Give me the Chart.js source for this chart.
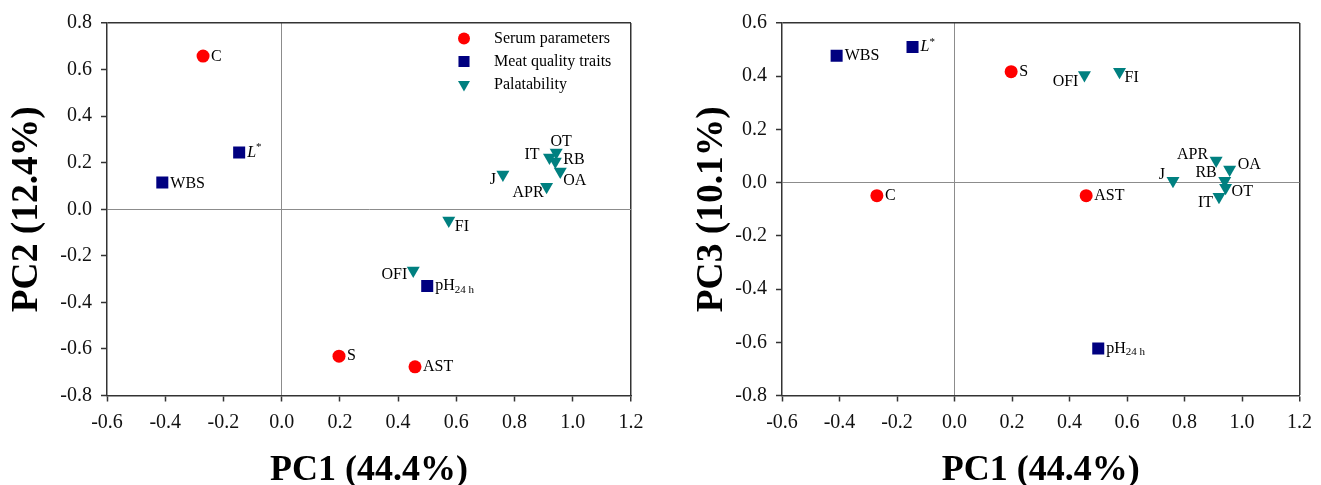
<!DOCTYPE html>
<html><head><meta charset="utf-8">
<script src="https://cdn.jsdelivr.net/npm/chart.js@4.4.0/dist/chart.umd.min.js"></script>
<style>
html,body{margin:0;padding:0;background:#fff;}
#wrap{position:relative;width:1321px;height:485px;overflow:hidden;background:#fff;}
.box{position:absolute;top:0;height:485px;}
</style></head><body>
<div id="wrap">
<div class="box" style="left:0;width:660px"><canvas id="c1"></canvas></div>
<div class="box" style="left:660px;width:661px"><canvas id="c2"></canvas></div>
</div>
<script>
// ---- data ----
const seriesNames = ['Serum parameters', 'Meat quality traits', 'Palatability'];
const labelsSerum = ['C', 'S', 'AST'];
const pc1Serum = [-0.27, 0.197, 0.458];
const pc2Serum = [0.658, -0.631, -0.677];
const pc3Serum = [-0.049, 0.417, -0.049];

const labelsMeat = ['L*', 'WBS', 'pH24h'];
const pc1Meat = [-0.146, -0.41, 0.50];
const pc2Meat = [0.244, 0.115, -0.33];
const pc3Meat = [0.51, 0.477, -0.623];

const labelsPal = ['OFI', 'FI', 'J', 'APR', 'OA', 'RB', 'IT', 'OT'];
const pc1Pal = [0.452, 0.574, 0.76, 0.91, 0.957, 0.94, 0.92, 0.943];
const pc2Pal = [-0.263, -0.048, 0.149, 0.097, 0.162, 0.205, 0.222, 0.244];
const pc3Pal = [0.405, 0.417, 0.0075, 0.083, 0.049, 0.0075, -0.053, -0.019];

const xTitle = 'PC1 (44.4%)';
const yTitleLeft = 'PC2 (12.4%)';
const yTitleRight = 'PC3 (10.1%)';
const xRange = [-0.6, 1.2];
const yRangeLeft = [-0.8, 0.8];
const yRangeRight = [-0.8, 0.6];
const tickStep = 0.2;

// ---- label placement (pixel offsets from marker) ----
const placeLeft = {
  'C': [8, 1, 'left'], 'L*': [8, 0, 'left'], 'WBS': [8, 1, 'left'], 'S': [8, 0, 'left'],
  'AST': [8, 0, 'left'], 'pH24h': [8, 0, 'left'], 'OFI': [-6, 4, 'right'], 'FI': [6, 6, 'left'],
  'J': [-7, 5, 'right'], 'APR': [-3, 6, 'right'], 'OA': [3, 9, 'left'], 'RB': [8, -2, 'left'],
  'IT': [-10, -3, 'right'], 'OT': [5, -11, 'center']
};
const placeRight = {
  'WBS': [8, 0, 'left'], 'L*': [8, 0, 'left'], 'S': [8, 0, 'left'], 'OFI': [-6, 7, 'right'],
  'FI': [5, 6, 'left'], 'C': [8, 0, 'left'], 'AST': [8, 0, 'left'], 'pH24h': [8, 0, 'left'],
  'J': [-8, -6, 'right'], 'APR': [-8, -6, 'right'], 'OA': [8, -5, 'left'], 'RB': [-8, -8, 'right'],
  'OT': [6, 4, 'left'], 'IT': [-6, 6, 'right']
};

const SERIF = "'Liberation Serif', 'Times New Roman', serif";
const COLORS = ['#ff0000', '#000080', '#008080'];
const STYLES = [
  {pointStyle: 'circle', radius: 6.5, rotation: 0},
  {pointStyle: 'rect', radius: 8.5, rotation: 0},
  {pointStyle: 'triangle', radius: 7.5, rotation: 180}
];

function pts(xs, ys) { return xs.map((x, i) => ({x: x, y: ys[i]})); }

function richParts(label) {
  if (label === 'L*') return [{t: 'L', f: 'italic 16px ' + SERIF, dy: 0}, {t: '*', f: '11px ' + SERIF, dy: -5}];
  if (label === 'pH24h') return [{t: 'pH', f: '16px ' + SERIF, dy: 0}, {t: '24 h', f: '11px ' + SERIF, dy: 4}];
  return [{t: label, f: '16px ' + SERIF, dy: 0}];
}

function drawRich(ctx, label, x, y, align) {
  const parts = richParts(label);
  let w = 0;
  parts.forEach(p => { ctx.font = p.f; p.w = ctx.measureText(p.t).width; w += p.w; });
  let cx = align === 'right' ? x - w : (align === 'center' ? x - w / 2 : x);
  ctx.textAlign = 'left';
  ctx.textBaseline = 'middle';
  ctx.fillStyle = '#000';
  parts.forEach(p => { ctx.font = p.f; ctx.fillText(p.t, cx, y + p.dy); cx += p.w; });
}

const pointLabelPlugin = {
  id: 'pointLabels',
  afterDatasetsDraw(chart, args, opts) {
    const ctx = chart.ctx;
    ctx.save();
    chart.data.datasets.forEach((ds, di) => {
      const meta = chart.getDatasetMeta(di);
      meta.data.forEach((el, i) => {
        const lab = ds.pointNames[i];
        const pl = opts.place[lab] || [8, 0, 'left'];
        drawRich(ctx, lab, el.x + pl[0], el.y + pl[1], pl[2]);
      });
    });
    ctx.restore();
  }
};

const legendPlugin = {
  id: 'customLegend',
  afterDraw(chart, args, opts) {
    if (!opts.show) return;
    const ctx = chart.ctx;
    ctx.save();
    chart.data.datasets.forEach((ds, di) => {
      const y = opts.y0 + di * opts.dy;
      ctx.fillStyle = ds.backgroundColor;
      ctx.strokeStyle = ds.backgroundColor;
      const st = STYLES[di];
      Chart.helpers.drawPoint(ctx, {pointStyle: st.pointStyle, radius: st.radius * 0.92, rotation: st.rotation, borderWidth: 0}, opts.mx, y);
      ctx.fillStyle = '#000';
      ctx.font = '16px ' + SERIF;
      ctx.textAlign = 'left';
      ctx.textBaseline = 'middle';
      ctx.fillText(ds.label, opts.tx, y);
    });
    ctx.restore();
  }
};

function fmt(v) { return Math.abs(v) < 1e-9 ? '0.0' : v.toFixed(1); }

function gridColor(max) {
  return (c) => {
    const v = c.tick ? c.tick.value : null;
    if (v === null) return 'rgba(0,0,0,0)';
    if (Math.abs(v) < 1e-9) return '#8c8c8c';
    if (Math.abs(v - max) < 1e-9) return '#333';
    return 'rgba(0,0,0,0)';
  };
}
function gridWidth(max) {
  return (c) => {
    const v = c.tick ? c.tick.value : 0;
    if (Math.abs(v - max) < 1e-9) return 1.5;
    return 1;
  };
}

function makeChart(id, ySets, yRange, yTitle, place, cfg) {
  const datasets = [
    {label: seriesNames[0], data: pts(pc1Serum, ySets[0]), pointNames: labelsSerum},
    {label: seriesNames[1], data: pts(pc1Meat, ySets[1]), pointNames: labelsMeat},
    {label: seriesNames[2], data: pts(pc1Pal, ySets[2]), pointNames: labelsPal}
  ].map((d, i) => Object.assign(d, {
    backgroundColor: COLORS[i], borderColor: COLORS[i], borderWidth: 0,
    pointStyle: STYLES[i].pointStyle, pointRadius: STYLES[i].radius,
    pointRotation: STYLES[i].rotation, pointHoverRadius: STYLES[i].radius
  }));
  return new Chart(document.getElementById(id), {
    type: 'scatter',
    data: {datasets},
    options: {
      responsive: true, maintainAspectRatio: false, animation: false,
      layout: {padding: {top: 23, right: cfg.padRight, left: 0, bottom: 0}},
      plugins: {
        legend: {display: false}, tooltip: {enabled: false},
        pointLabels: {place},
        customLegend: cfg.legend
      },
      scales: {
        x: {
          type: 'linear', position: 'bottom', min: xRange[0], max: xRange[1],
          afterFit(s) { s.height = 89.5; },
          border: {display: true, color: '#333', width: 1.5},
          grid: {color: gridColor(xRange[1]), lineWidth: gridWidth(xRange[1]), tickColor: '#333', tickLength: 6, tickWidth: 1.5},
          ticks: {stepSize: tickStep, padding: 9, color: '#111', font: {family: SERIF, size: 20}, callback: fmt, maxRotation: 0, autoSkip: false},
          title: {display: true, text: xTitle, color: '#000', font: {family: SERIF, size: 36, weight: 'bold', lineHeight: 1}, padding: {top: 0, bottom: -4}}
        },
        y: {
          type: 'linear', position: 'left', min: yRange[0], max: yRange[1],
          afterFit(s) { s.width = cfg.yWidth; },
          border: {display: true, color: '#333', width: 1.5},
          grid: {color: gridColor(yRange[1]), lineWidth: gridWidth(yRange[1]), tickColor: '#333', tickLength: 6, tickWidth: 1.5},
          ticks: {stepSize: tickStep, padding: 9, color: '#111', font: {family: SERIF, size: 20}, callback: fmt, autoSkip: false},
          title: {display: true, text: yTitle, color: '#000', font: {family: SERIF, size: 37.5, weight: 'bold', lineHeight: 1}, padding: {top: cfg.titlePad, bottom: 0}}
        }
      }
    },
    plugins: [pointLabelPlugin, legendPlugin]
  });
}

makeChart('c1', [pc2Serum, pc2Meat, pc2Pal], yRangeLeft, yTitleLeft, placeLeft,
  {padRight: 29, yWidth: 107, titlePad: 9, legend: {show: true, mx: 464, tx: 494, y0: 38.5, dy: 23}});
makeChart('c2', [pc3Serum, pc3Meat, pc3Pal], yRangeRight, yTitleRight, placeRight,
  {padRight: 15, yWidth: 122, titlePad: 34, legend: {show: false}});
</script>
</body></html>
